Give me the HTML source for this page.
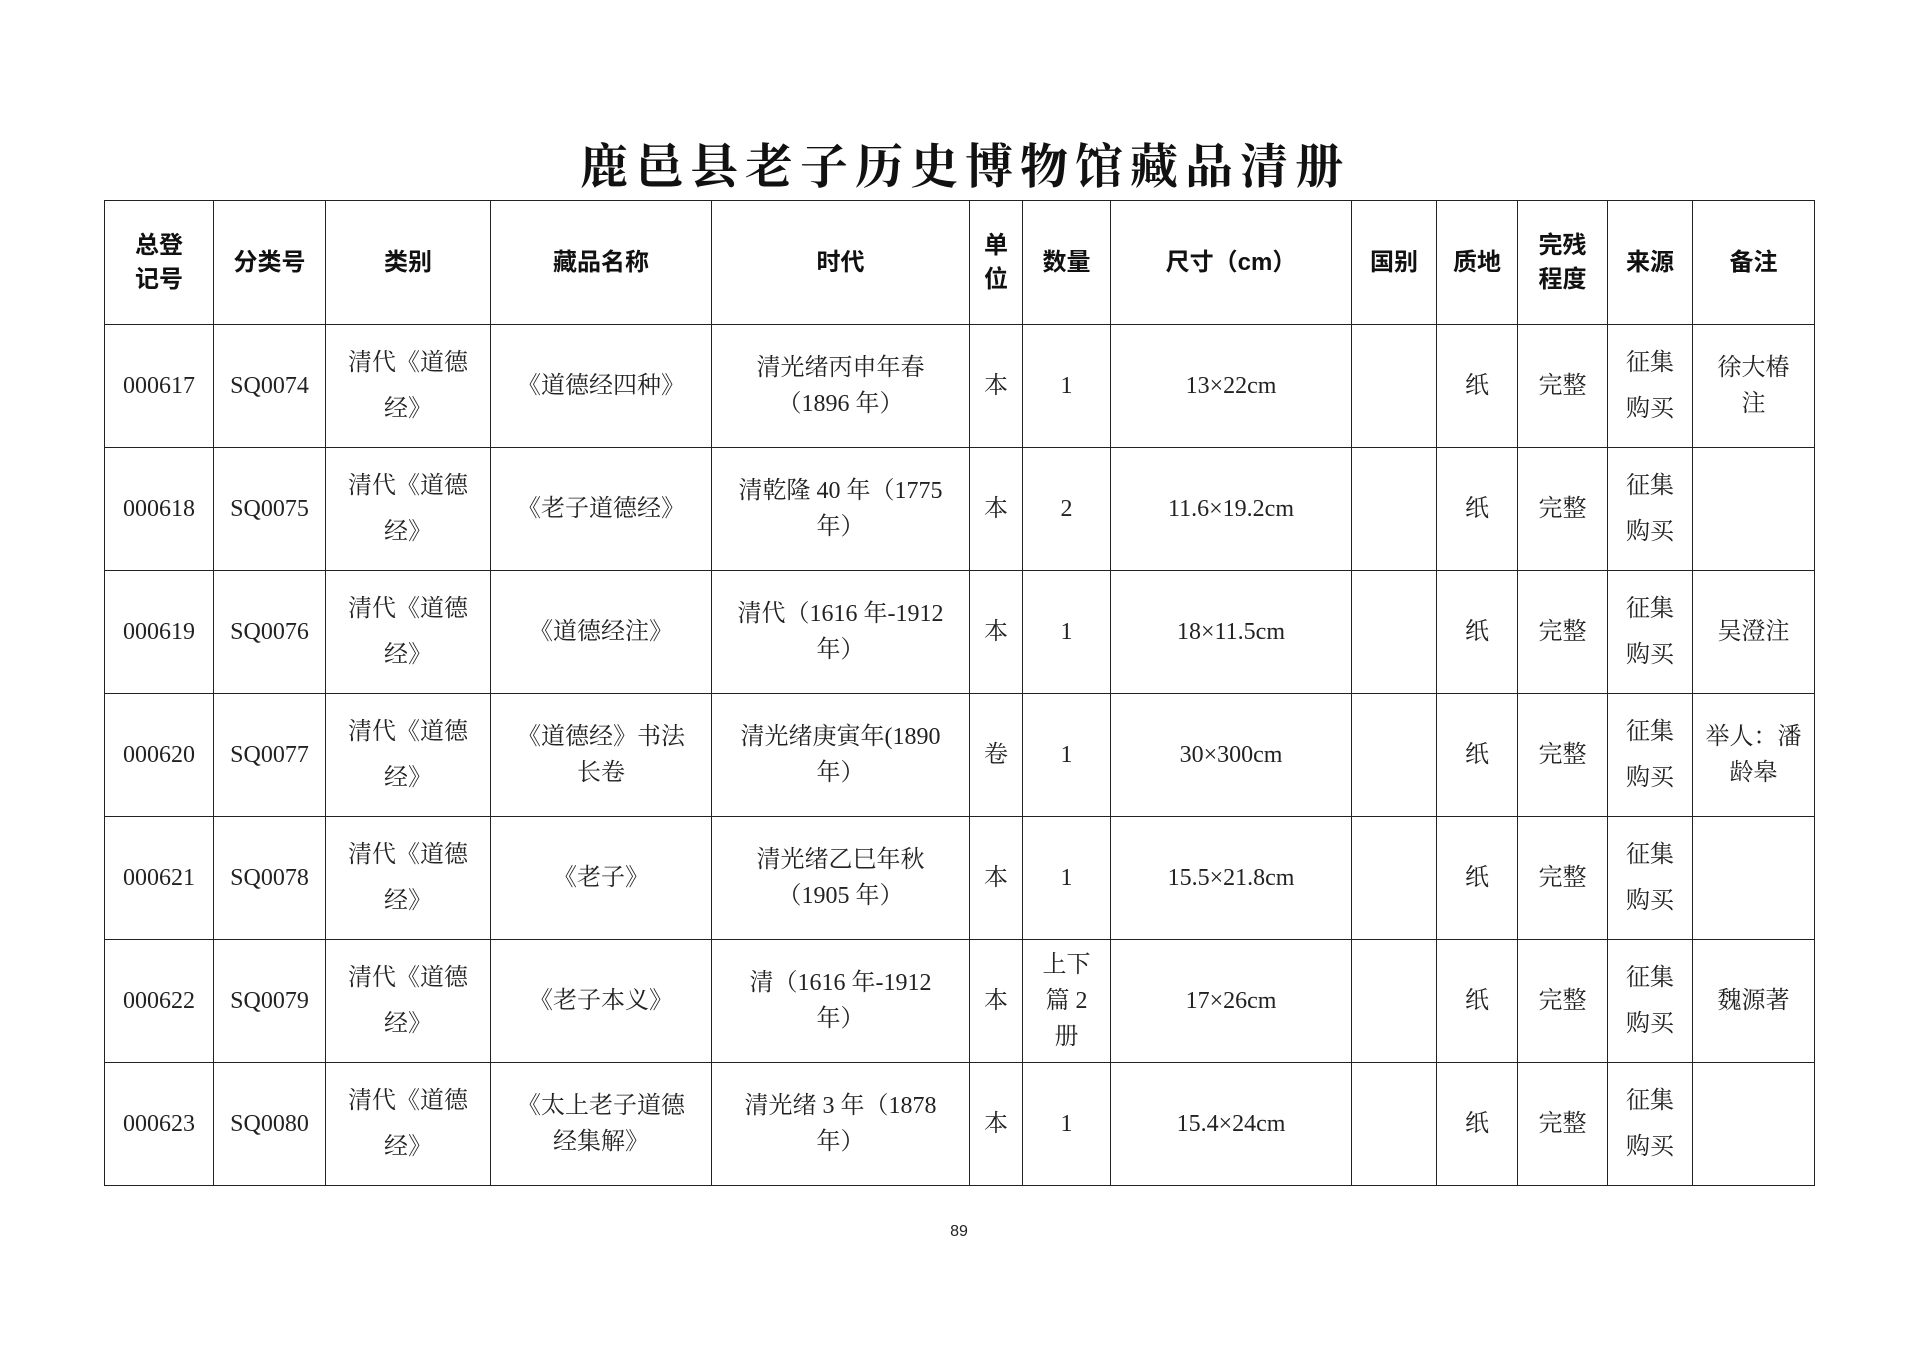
<!DOCTYPE html>
<html><head><meta charset="utf-8"><style>
html,body{margin:0;padding:0;background:#fff;width:1920px;height:1357px;overflow:hidden}
.title{position:absolute;left:0;width:1930px;top:138px;text-align:center;font-family:"Liberation Serif","Noto Serif CJK SC",serif;font-size:48px;font-weight:bold;letter-spacing:7px;color:#111;line-height:60px}
table{position:absolute;left:104px;top:200px;border-collapse:collapse;table-layout:fixed;width:1710px}
td{border:1.5px solid #222;text-align:center;vertical-align:middle;padding:0 3px;font-family:"Liberation Serif","Noto Serif CJK SC",serif;font-size:24px;color:#222;line-height:36px;overflow:hidden}
tr{height:123px}
tr.h td{font-family:"Liberation Sans","Noto Sans CJK SC",sans-serif;font-weight:bold;font-size:24px;line-height:34px;color:#111}
td.w{line-height:46px}
.pn{position:absolute;left:0;width:1918px;top:1223px;text-align:center;font-family:"Liberation Sans",sans-serif;font-size:16px;color:#222}
</style></head><body>
<div class="title">鹿邑县老子历史博物馆藏品清册</div>
<table>
<colgroup><col style="width:109px"><col style="width:112px"><col style="width:165px"><col style="width:221px"><col style="width:258px"><col style="width:53px"><col style="width:88px"><col style="width:241px"><col style="width:85px"><col style="width:81px"><col style="width:90px"><col style="width:85px"><col style="width:122px"></colgroup>
<tr class="h" style="height:124px"><td>总登<br>记号</td><td>分类号</td><td>类别</td><td>藏品名称</td><td>时代</td><td>单<br>位</td><td>数量</td><td>尺寸（cm）</td><td>国别</td><td>质地</td><td>完残<br>程度</td><td>来源</td><td>备注</td></tr>
<tr><td>000617</td><td>SQ0074</td><td class="w">清代《道德<br>经》</td><td>《道德经四种》</td><td>清光绪丙申年春<br>（1896 年）</td><td>本</td><td>1</td><td>13×22cm</td><td></td><td>纸</td><td>完整</td><td class="w">征集<br>购买</td><td>徐大椿<br>注</td></tr>
<tr><td>000618</td><td>SQ0075</td><td class="w">清代《道德<br>经》</td><td>《老子道德经》</td><td>清乾隆 40 年（1775<br>年）</td><td>本</td><td>2</td><td>11.6×19.2cm</td><td></td><td>纸</td><td>完整</td><td class="w">征集<br>购买</td><td></td></tr>
<tr><td>000619</td><td>SQ0076</td><td class="w">清代《道德<br>经》</td><td>《道德经注》</td><td>清代（1616 年-1912<br>年）</td><td>本</td><td>1</td><td>18×11.5cm</td><td></td><td>纸</td><td>完整</td><td class="w">征集<br>购买</td><td>吴澄注</td></tr>
<tr><td>000620</td><td>SQ0077</td><td class="w">清代《道德<br>经》</td><td>《道德经》书法<br>长卷</td><td>清光绪庚寅年(1890<br>年）</td><td>卷</td><td>1</td><td>30×300cm</td><td></td><td>纸</td><td>完整</td><td class="w">征集<br>购买</td><td>举人：潘<br>龄皋</td></tr>
<tr><td>000621</td><td>SQ0078</td><td class="w">清代《道德<br>经》</td><td>《老子》</td><td>清光绪乙巳年秋<br>（1905 年）</td><td>本</td><td>1</td><td>15.5×21.8cm</td><td></td><td>纸</td><td>完整</td><td class="w">征集<br>购买</td><td></td></tr>
<tr><td>000622</td><td>SQ0079</td><td class="w">清代《道德<br>经》</td><td>《老子本义》</td><td>清（1616 年-1912<br>年）</td><td>本</td><td>上下<br>篇 2<br>册</td><td>17×26cm</td><td></td><td>纸</td><td>完整</td><td class="w">征集<br>购买</td><td>魏源著</td></tr>
<tr><td>000623</td><td>SQ0080</td><td class="w">清代《道德<br>经》</td><td>《太上老子道德<br>经集解》</td><td>清光绪 3 年（1878<br>年）</td><td>本</td><td>1</td><td>15.4×24cm</td><td></td><td>纸</td><td>完整</td><td class="w">征集<br>购买</td><td></td></tr>
</table>
<div class="pn">89</div>
</body></html>
